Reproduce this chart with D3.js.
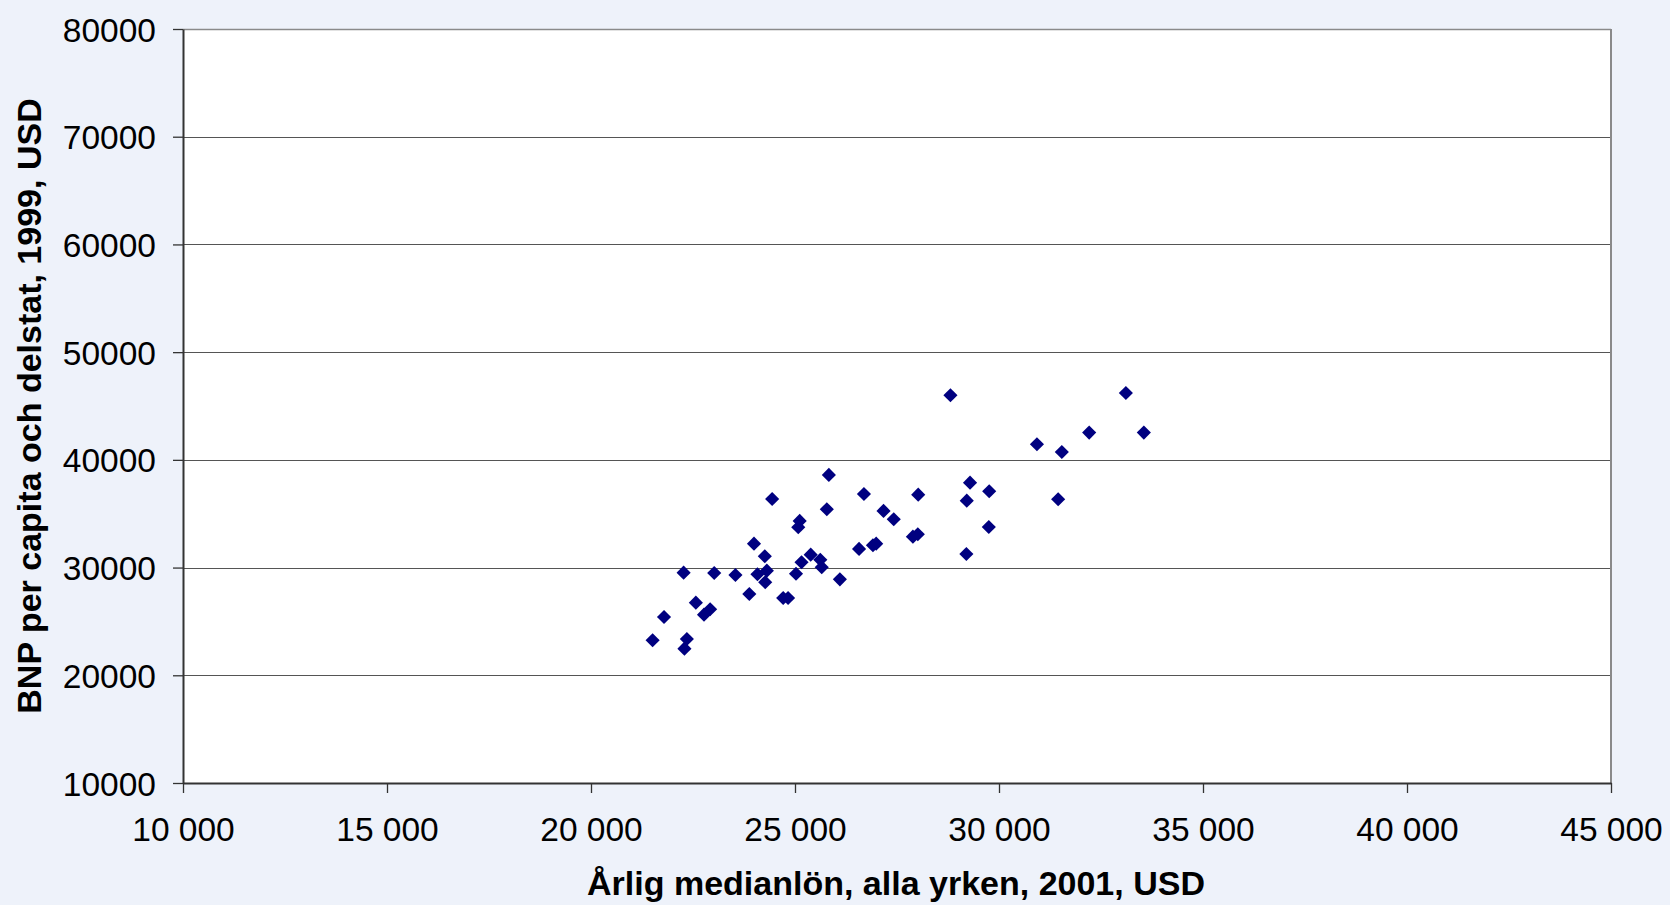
<!DOCTYPE html>
<html>
<head>
<meta charset="utf-8">
<script src="https://cdn.jsdelivr.net/npm/d3@7/dist/d3.min.js"></script>
<style>
  html, body { margin: 0; padding: 0; background: #EEF2FA; }
  svg { display: block; font-family: "Liberation Sans", Arial, sans-serif; }
</style>
</head>
<body>
<svg id="chart" width="1670" height="905"></svg>
<script>
// Årlig medianlön (x) and BNP per capita (y), one entry per delstat
const wages = [25830, 24440, 26690, 25780, 25115, 25080, 27170, 23995, 24260, 22270,
               23020, 23540, 24080, 24310, 24270, 25025, 25160, 25385, 25620, 25655,
               26100, 26570, 26910, 26990, 23880, 24710, 24830, 22570, 22920, 22770,
               21790, 21510, 22350, 22290, 28810, 30930, 31540, 32210, 27420, 28020,
               29290, 29210, 29760, 29750, 31450, 27890, 28010, 29200, 33110, 33550];
const gdp   = [38600, 36370, 36830, 35410, 34330, 33740, 35260, 32220, 31050, 29530,
               29500, 29310, 29380, 29710, 28640, 29430, 30490, 31200, 30730, 30030,
               28910, 31730, 32070, 32220, 27550, 27180, 27180, 26740, 26130, 25630,
               25410, 23250, 23370, 22470, 46000, 41450, 40730, 42530, 34490, 36770,
               37880, 36210, 37090, 33770, 36340, 32870, 33090, 31260, 46210, 42530];
const xTicks = [10000, 15000, 20000, 25000, 30000, 35000, 40000, 45000];
const yTicks = [10000, 20000, 30000, 40000, 50000, 60000, 70000, 80000];
const xTitle = "Årlig medianlön, alla yrken, 2001, USD";
const yTitle = "BNP per capita och delstat, 1999, USD";

const svg = d3.select("#chart");
const pLeft = 183, pRight = 1611, pTop = 29, pBottom = 783;

const x = d3.scaleLinear().domain([10000, 45000]).range([pLeft, pRight]);
const y = d3.scaleLinear().domain([10000, 80000]).range([pBottom, pTop]);

const loc = d3.formatLocale({decimal: ",", thousands: " ", grouping: [3], currency: ["", ""]});
const fmtX = loc.format(",d");
const fmtY = d3.format("d");

// plot area
svg.append("rect")
  .attr("x", pLeft).attr("y", pTop)
  .attr("width", pRight - pLeft).attr("height", pBottom - pTop)
  .attr("fill", "#ffffff");

// gridlines
svg.append("g").selectAll("line")
  .data(yTicks.filter(v => v > 10000 && v < 80000))
  .join("line")
  .attr("x1", pLeft).attr("x2", pRight)
  .attr("y1", d => Math.round(y(d)) + 0.5).attr("y2", d => Math.round(y(d)) + 0.5)
  .attr("stroke", "#555").attr("stroke-width", 1.2);

// top and right frame
svg.append("line").attr("x1", pLeft).attr("x2", pRight).attr("y1", pTop + 0.5).attr("y2", pTop + 0.5)
  .attr("stroke", "#8a8a8a").attr("stroke-width", 1.6);
svg.append("line").attr("x1", pRight).attr("x2", pRight).attr("y1", pTop).attr("y2", pBottom)
  .attr("stroke", "#8a8a8a").attr("stroke-width", 2);

// axes
const xAxis = svg.append("g").attr("transform", `translate(0,${pBottom})`)
  .call(d3.axisBottom(x).tickValues(xTicks).tickFormat(fmtX).tickSize(10).tickSizeOuter(0));
const yAxis = svg.append("g").attr("transform", `translate(${pLeft},0)`)
  .call(d3.axisLeft(y).tickValues(yTicks).tickFormat(fmtY).tickSize(10).tickSizeOuter(0));

[xAxis, yAxis].forEach(g => {
  g.select(".domain").attr("stroke", "#333").attr("stroke-width", 2);
  g.selectAll(".tick line").attr("stroke", "#333").attr("stroke-width", 1.3);
  g.selectAll(".tick text").attr("fill", "#000").style("font-size", "33.5px")
    .style("font-family", "'Liberation Sans', Arial, sans-serif");
});
xAxis.selectAll(".tick text").attr("y", 34).attr("dy", "0.71em");
yAxis.selectAll(".tick text").attr("x", -27).attr("dy", "0.36em");

// markers
const pts = wages.map((w, i) => ({w, g: gdp[i]}));
const diamond = d3.symbol().type(d3.symbolSquare).size(100);
svg.append("g").selectAll("path")
  .data(pts)
  .join("path")
  .attr("d", diamond)
  .attr("transform", d => `translate(${x(d.w)},${y(d.g)}) rotate(45)`)
  .attr("fill", "#000080");

// axis titles
svg.append("text")
  .attr("x", (pLeft + pRight) / 2 - 1).attr("y", 895)
  .attr("text-anchor", "middle")
  .style("font-size", "34px").style("font-weight", "bold")
  .attr("fill", "#000")
  .text(xTitle);

svg.append("text")
  .attr("transform", `translate(41,${406}) rotate(-90)`)
  .attr("text-anchor", "middle")
  .style("font-size", "34px").style("font-weight", "bold")
  .attr("fill", "#000")
  .text(yTitle);
</script>
</body>
</html>
